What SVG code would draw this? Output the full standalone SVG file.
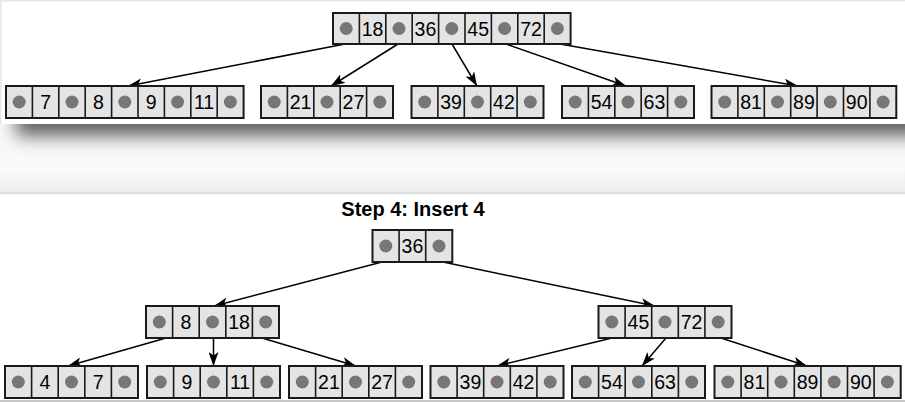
<svg xmlns="http://www.w3.org/2000/svg" width="905" height="402" viewBox="0 0 905 402">
<style>
.box{fill:#e4e4e4;stroke:#1a1a1a;stroke-width:2}
.div{fill:none;stroke:#1a1a1a;stroke-width:1.6}
.dot{fill:#777}
.num{font-family:"Liberation Sans",Arial,sans-serif;font-size:19.5px;fill:#000;text-anchor:middle}
.title{font-family:"Liberation Sans",Arial,sans-serif;font-size:20px;font-weight:bold;fill:#000;text-anchor:middle}
.edge{stroke:#000;stroke-width:1.5;fill:none;marker-end:url(#ah)}
</style>
<defs>
<marker id="ah" markerWidth="14" markerHeight="10" refX="14" refY="5" orient="auto" markerUnits="userSpaceOnUse">
<path d="M0,0 L14,5 L0,10 L3.5,5 z" fill="#000"/>
</marker>
<filter id="sh" x="-10%" y="-100%" width="120%" height="400%">
<feGaussianBlur stdDeviation="9"/>
</filter>
<linearGradient id="band" x1="0" y1="0" x2="0" y2="1">
<stop offset="0" stop-color="#fafafa"/>
<stop offset="1" stop-color="#ebebeb"/>
</linearGradient>
</defs>

<!-- backgrounds -->
<rect x="0" y="0" width="905" height="402" fill="#f9f9f9"/>
<rect x="0" y="168" width="905" height="26" fill="url(#band)"/>
<rect x="16" y="100" width="920" height="36" fill="#606060" filter="url(#sh)"/>
<rect x="0" y="0" width="905" height="124" fill="#ffffff"/>
<rect x="0" y="0" width="905" height="1.5" fill="#e6e6e6"/>
<rect x="0" y="0" width="1.5" height="124" fill="#e6e6e6"/>
<rect x="0" y="192" width="905" height="2.5" fill="#dedede"/>
<rect x="0" y="194.5" width="905" height="205.5" fill="#ffffff"/>
<rect x="0" y="400" width="905" height="2" fill="#c8c8c8"/>

<!-- connectors -->
<g id="connectors">
<line class="edge" x1="345" y1="44" x2="128" y2="86"/>
<line class="edge" x1="398" y1="44" x2="331" y2="86"/>
<line class="edge" x1="452" y1="44" x2="477" y2="86"/>
<line class="edge" x1="506" y1="44" x2="626" y2="86"/>
<line class="edge" x1="560" y1="44" x2="798" y2="86"/>
<line class="edge" x1="382" y1="262" x2="214" y2="306"/>
<line class="edge" x1="443" y1="262" x2="655" y2="306"/>
<line class="edge" x1="166" y1="338" x2="68" y2="366"/>
<line class="edge" x1="213.5" y1="338" x2="213.5" y2="366"/>
<line class="edge" x1="262" y1="338" x2="356" y2="366"/>
<line class="edge" x1="612" y1="338" x2="497" y2="366"/>
<line class="edge" x1="666" y1="338" x2="642" y2="366"/>
<line class="edge" x1="721" y1="338" x2="807" y2="366"/>
</g>

<!-- top panel -->
<g id="top-root">
<rect class="box" x="333" y="13" width="237.6" height="31"/>
<path class="div" d="M359.4,13v31M385.8,13v31M412.2,13v31M438.6,13v31M465,13v31M491.4,13v31M517.8,13v31M544.2,13v31"/>
<circle class="dot" cx="346.2" cy="28.5" r="6.5"/><circle class="dot" cx="399" cy="28.5" r="6.5"/><circle class="dot" cx="451.8" cy="28.5" r="6.5"/><circle class="dot" cx="504.6" cy="28.5" r="6.5"/><circle class="dot" cx="557.4" cy="28.5" r="6.5"/>
<text class="num" x="372.6" y="35.5">18</text><text class="num" x="425.4" y="35.5">36</text><text class="num" x="478.2" y="35.5">45</text><text class="num" x="531" y="35.5">72</text>
</g>
<g id="top-leaf-1">
<rect class="box" x="6" y="86" width="237.6" height="32"/>
<path class="div" d="M32.4,86v32M58.8,86v32M85.2,86v32M111.6,86v32M138,86v32M164.4,86v32M190.8,86v32M217.2,86v32"/>
<circle class="dot" cx="19.2" cy="102" r="6.5"/><circle class="dot" cx="72" cy="102" r="6.5"/><circle class="dot" cx="124.8" cy="102" r="6.5"/><circle class="dot" cx="177.6" cy="102" r="6.5"/><circle class="dot" cx="230.4" cy="102" r="6.5"/>
<text class="num" x="45.6" y="109">7</text><text class="num" x="98.4" y="109">8</text><text class="num" x="151.2" y="109">9</text><text class="num" x="204" y="109">11</text>
</g>
<g id="top-leaf-2">
<rect class="box" x="261" y="86" width="132" height="32"/>
<path class="div" d="M287.4,86v32M313.8,86v32M340.2,86v32M366.6,86v32"/>
<circle class="dot" cx="274.2" cy="102" r="6.5"/><circle class="dot" cx="327" cy="102" r="6.5"/><circle class="dot" cx="379.8" cy="102" r="6.5"/>
<text class="num" x="300.6" y="109">21</text><text class="num" x="353.4" y="109">27</text>
</g>
<g id="top-leaf-3">
<rect class="box" x="411.5" y="86" width="132" height="32"/>
<path class="div" d="M437.9,86v32M464.3,86v32M490.7,86v32M517.1,86v32"/>
<circle class="dot" cx="424.7" cy="102" r="6.5"/><circle class="dot" cx="477.5" cy="102" r="6.5"/><circle class="dot" cx="530.3" cy="102" r="6.5"/>
<text class="num" x="451.1" y="109">39</text><text class="num" x="503.9" y="109">42</text>
</g>
<g id="top-leaf-4">
<rect class="box" x="562" y="86" width="132" height="32"/>
<path class="div" d="M588.4,86v32M614.8,86v32M641.2,86v32M667.6,86v32"/>
<circle class="dot" cx="575.2" cy="102" r="6.5"/><circle class="dot" cx="628" cy="102" r="6.5"/><circle class="dot" cx="680.8" cy="102" r="6.5"/>
<text class="num" x="601.6" y="109">54</text><text class="num" x="654.4" y="109">63</text>
</g>
<g id="top-leaf-5">
<rect class="box" x="711.5" y="86" width="184.8" height="32"/>
<path class="div" d="M737.9,86v32M764.3,86v32M790.7,86v32M817.1,86v32M843.5,86v32M869.9,86v32"/>
<circle class="dot" cx="724.7" cy="102" r="6.5"/><circle class="dot" cx="777.5" cy="102" r="6.5"/><circle class="dot" cx="830.3" cy="102" r="6.5"/><circle class="dot" cx="883.1" cy="102" r="6.5"/>
<text class="num" x="751.1" y="109">81</text><text class="num" x="803.9" y="109">89</text><text class="num" x="856.7" y="109">90</text>
</g>

<!-- bottom panel -->
<text id="title" class="title" x="413" y="216">Step 4: Insert 4</text>
<g id="b-root">
<rect class="box" x="372.5" y="230" width="79.8" height="32"/>
<path class="div" d="M399.1,230v32M425.7,230v32"/>
<circle class="dot" cx="385.8" cy="246" r="6.5"/><circle class="dot" cx="439" cy="246" r="6.5"/>
<text class="num" x="412.4" y="253">36</text>
</g>
<g id="b-mid-left">
<rect class="box" x="146" y="306" width="133" height="32"/>
<path class="div" d="M172.6,306v32M199.2,306v32M225.8,306v32M252.4,306v32"/>
<circle class="dot" cx="159.3" cy="322" r="6.5"/><circle class="dot" cx="212.5" cy="322" r="6.5"/><circle class="dot" cx="265.7" cy="322" r="6.5"/>
<text class="num" x="185.9" y="329">8</text><text class="num" x="239.1" y="329">18</text>
</g>
<g id="b-mid-right">
<rect class="box" x="598.5" y="306" width="133" height="32"/>
<path class="div" d="M625.1,306v32M651.7,306v32M678.3,306v32M704.9,306v32"/>
<circle class="dot" cx="611.8" cy="322" r="6.5"/><circle class="dot" cx="665" cy="322" r="6.5"/><circle class="dot" cx="718.2" cy="322" r="6.5"/>
<text class="num" x="638.4" y="329">45</text><text class="num" x="691.6" y="329">72</text>
</g>
<g id="b-leaf-1">
<rect class="box" x="5" y="366" width="133" height="32"/>
<path class="div" d="M31.6,366v32M58.2,366v32M84.8,366v32M111.4,366v32"/>
<circle class="dot" cx="18.3" cy="382" r="6.5"/><circle class="dot" cx="71.5" cy="382" r="6.5"/><circle class="dot" cx="124.7" cy="382" r="6.5"/>
<text class="num" x="44.9" y="389">4</text><text class="num" x="98.1" y="389">7</text>
</g>
<g id="b-leaf-2">
<rect class="box" x="147" y="366" width="133" height="32"/>
<path class="div" d="M173.6,366v32M200.2,366v32M226.8,366v32M253.4,366v32"/>
<circle class="dot" cx="160.3" cy="382" r="6.5"/><circle class="dot" cx="213.5" cy="382" r="6.5"/><circle class="dot" cx="266.7" cy="382" r="6.5"/>
<text class="num" x="186.9" y="389">9</text><text class="num" x="240.1" y="389">11</text>
</g>
<g id="b-leaf-3">
<rect class="box" x="289" y="366" width="133" height="32"/>
<path class="div" d="M315.6,366v32M342.2,366v32M368.8,366v32M395.4,366v32"/>
<circle class="dot" cx="302.3" cy="382" r="6.5"/><circle class="dot" cx="355.5" cy="382" r="6.5"/><circle class="dot" cx="408.7" cy="382" r="6.5"/>
<text class="num" x="328.9" y="389">21</text><text class="num" x="382.1" y="389">27</text>
</g>
<g id="b-leaf-4">
<rect class="box" x="430.5" y="366" width="133" height="32"/>
<path class="div" d="M457.1,366v32M483.7,366v32M510.3,366v32M536.9,366v32"/>
<circle class="dot" cx="443.8" cy="382" r="6.5"/><circle class="dot" cx="497" cy="382" r="6.5"/><circle class="dot" cx="550.2" cy="382" r="6.5"/>
<text class="num" x="470.4" y="389">39</text><text class="num" x="523.6" y="389">42</text>
</g>
<g id="b-leaf-5">
<rect class="box" x="572" y="366" width="133" height="32"/>
<path class="div" d="M598.6,366v32M625.2,366v32M651.8,366v32M678.4,366v32"/>
<circle class="dot" cx="585.3" cy="382" r="6.5"/><circle class="dot" cx="638.5" cy="382" r="6.5"/><circle class="dot" cx="691.7" cy="382" r="6.5"/>
<text class="num" x="611.9" y="389">54</text><text class="num" x="665.1" y="389">63</text>
</g>
<g id="b-leaf-6">
<rect class="box" x="714.5" y="366" width="186.2" height="32"/>
<path class="div" d="M741.1,366v32M767.7,366v32M794.3,366v32M820.9,366v32M847.5,366v32M874.1,366v32"/>
<circle class="dot" cx="727.8" cy="382" r="6.5"/><circle class="dot" cx="781" cy="382" r="6.5"/><circle class="dot" cx="834.2" cy="382" r="6.5"/><circle class="dot" cx="887.4" cy="382" r="6.5"/>
<text class="num" x="754.4" y="389">81</text><text class="num" x="807.6" y="389">89</text><text class="num" x="860.8" y="389">90</text>
</g>
</svg>
